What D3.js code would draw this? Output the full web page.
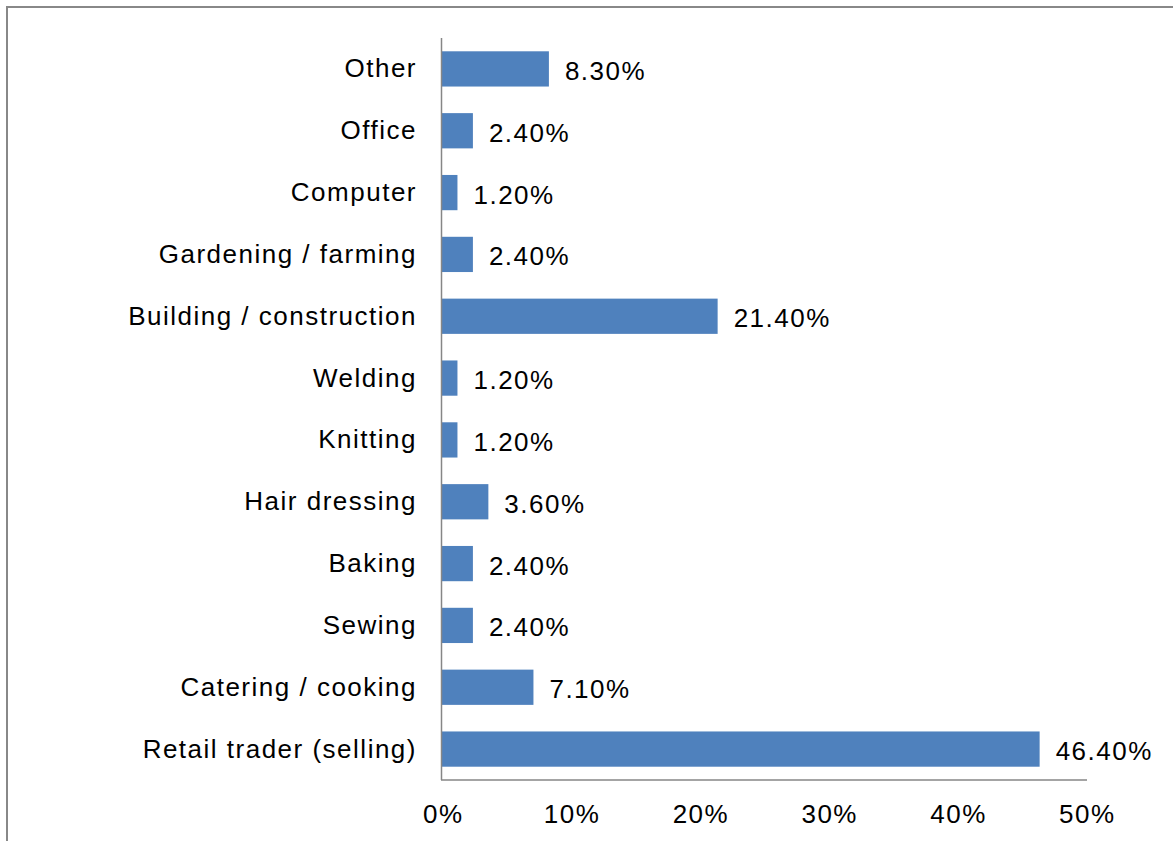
<!DOCTYPE html>
<html>
<head>
<meta charset="utf-8">
<script src="https://cdn.jsdelivr.net/npm/d3@7"></script>
<style>
  html, body { margin: 0; padding: 0; background: #fff; }
  svg text { font-family: "Liberation Sans", Arial, sans-serif; fill: #000; letter-spacing: 1.5px; }
</style>
</head>
<body>
<svg id="chart" width="1173" height="841"></svg>
<script>
// Occupations, top to bottom, with the share of respondents
const categories = [
  "Other", "Office", "Computer", "Gardening / farming", "Building / construction",
  "Welding", "Knitting", "Hair dressing", "Baking", "Sewing",
  "Catering / cooking", "Retail trader (selling)"
];
const shares = [8.3, 2.4, 1.2, 2.4, 21.4, 1.2, 1.2, 3.6, 2.4, 2.4, 7.1, 46.4];
const tickValues = [0, 10, 20, 30, 40, 50];
const tickLabels = ["0%", "10%", "20%", "30%", "40%", "50%"];

const FONT_SIZE = 26;
const svg = d3.select("#chart");

// outer frame
svg.append("rect")
  .attr("x", 7).attr("y", 7)
  .attr("width", 1300).attr("height", 1000)
  .attr("fill", "none")
  .attr("stroke", "#888")
  .attr("stroke-width", 2);

const x = d3.scaleLinear().domain([0, 50]).range([442, 1086]);
const y = d3.scaleBand()
  .domain(categories)
  .range([38, 780])
  .paddingInner(0.43)
  .paddingOuter(0.215);

// bars
svg.append("g").selectAll("rect")
  .data(categories)
  .join("rect")
  .attr("x", x(0))
  .attr("y", d => y(d))
  .attr("width", (d, i) => x(shares[i]) - x(0))
  .attr("height", y.bandwidth())
  .attr("fill", "#4F81BD");

// value labels
svg.append("g").selectAll("text")
  .data(categories)
  .join("text")
  .attr("x", (d, i) => x(shares[i]) + 16)
  .attr("y", d => y(d) + y.bandwidth() / 2 + 11)
  .attr("font-size", FONT_SIZE)
  .text((d, i) => shares[i].toFixed(2) + "%");

// category axis
const yAxis = d3.axisLeft(y).tickSize(0).tickPadding(24.5);
const gy = svg.append("g").attr("transform", `translate(${x(0) - 0.5},0)`).call(yAxis);
gy.select(".domain").attr("stroke", "#868686").attr("stroke-width", 1.5)
  .attr("d", "M0,38V780");
gy.selectAll("text")
  .attr("font-size", FONT_SIZE)
  .attr("font-family", "Liberation Sans, Arial, sans-serif")
  .attr("fill", "#000")
  .attr("dy", null)
  .attr("y", 8.5);

// value axis
const xAxis = d3.axisBottom(x)
  .tickValues(tickValues)
  .tickSize(0)
  .tickPadding(34)
  .tickFormat((d, i) => tickLabels[i]);
const gx = svg.append("g").attr("transform", "translate(0,780)").call(xAxis);
gx.select(".domain").attr("stroke", "#868686").attr("stroke-width", 1.5)
  .attr("d", `M${x(0) - 1},0H${x(50) + 1}`);
gx.selectAll("text")
  .attr("font-size", FONT_SIZE)
  .attr("font-family", "Liberation Sans, Arial, sans-serif")
  .attr("fill", "#000")
  .attr("dy", null)
  .attr("x", 0.8)
  .attr("y", 43);
</script>
</body>
</html>
